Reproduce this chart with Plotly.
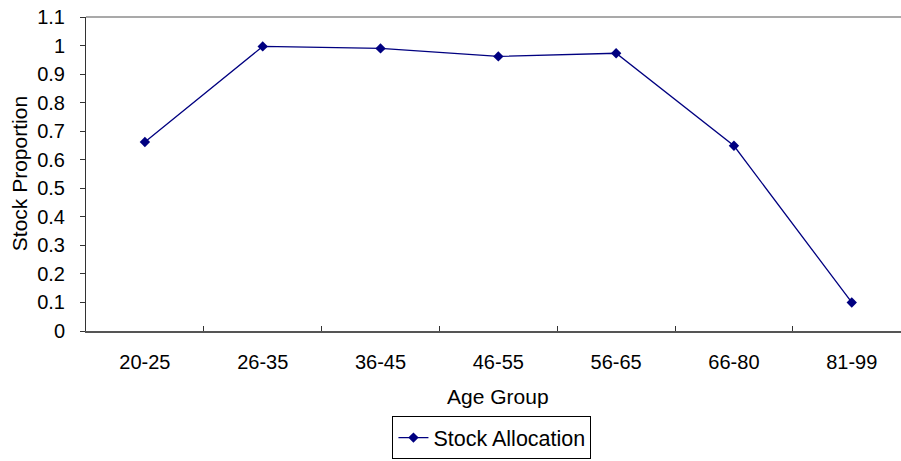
import plotly.graph_objects as go

age_groups = ["20-25", "26-35", "36-45", "46-55", "56-65", "66-80", "81-99"]
stock_share = [0.662, 0.997, 0.990, 0.962, 0.973, 0.649, 0.100]
y_ticks = [0, 0.1, 0.2, 0.3, 0.4, 0.5, 0.6, 0.7, 0.8, 0.9, 1, 1.1]
y_tick_text = ["0", "0.1", "0.2", "0.3", "0.4", "0.5", "0.6", "0.7", "0.8", "0.9", "1", "1.1"]

FONT = "Liberation Sans, Arial, sans-serif"
NAVY = "#000080"

fig = go.Figure()
fig.add_trace(go.Scatter(
    x=age_groups, y=stock_share, mode="lines+markers", name="Stock Allocation",
    line=dict(color=NAVY, width=1.3),
    marker=dict(symbol="diamond", size=8, color=NAVY),
))

fig.update_layout(
    width=901, height=461,
    margin=dict(l=86, r=0, t=17, b=130, autoexpand=False),
    paper_bgcolor="white", plot_bgcolor="white",
    font=dict(family=FONT, size=20, color="black"),
    showlegend=True,
    legend=dict(
        x=0.376, y=-0.408, xanchor="left", yanchor="bottom",
        bordercolor="black", borderwidth=1, bgcolor="white",
        font=dict(family=FONT, size=21.5, color="black"),
        itemwidth=30, tracegroupgap=0,
    ),
    xaxis=dict(
        type="category", range=[-0.5, 6.418], automargin=False,
        tickson="boundaries", ticks="inside", ticklen=5, tickcolor="#333333",
        showline=True, linecolor="#555555", linewidth=2,
        showgrid=False, zeroline=False,
        ticklabelstandoff=12,
        tickfont=dict(family=FONT, size=20, color="black"),
    ),
    yaxis=dict(
        range=[0, 1.1], tickvals=y_ticks, ticktext=y_tick_text, automargin=False,
        ticks="outside", ticklen=5, tickcolor="#333333",
        showline=True, linecolor="#333333", linewidth=1,
        showgrid=False, zeroline=False,
        ticklabelstandoff=11,
        tickfont=dict(family=FONT, size=20, color="black"),
    ),
    shapes=[dict(type="line", xref="paper", yref="paper", x0=0, x1=1, y0=1, y1=1,
                 line=dict(color="#8c8c8c", width=1.5))],
    annotations=[
        dict(text="Age Group", xref="paper", yref="paper", x=0.506, y=-0.21,
             xanchor="center", yanchor="middle", showarrow=False,
             font=dict(family=FONT, size=21, color="black")),
        dict(text="Stock Proportion", xref="paper", yref="paper", x=-0.082, y=0.5,
             xanchor="center", yanchor="middle", textangle=-90, showarrow=False,
             font=dict(family=FONT, size=21, color="black")),
    ],
)

fig.write_html("out.html")
